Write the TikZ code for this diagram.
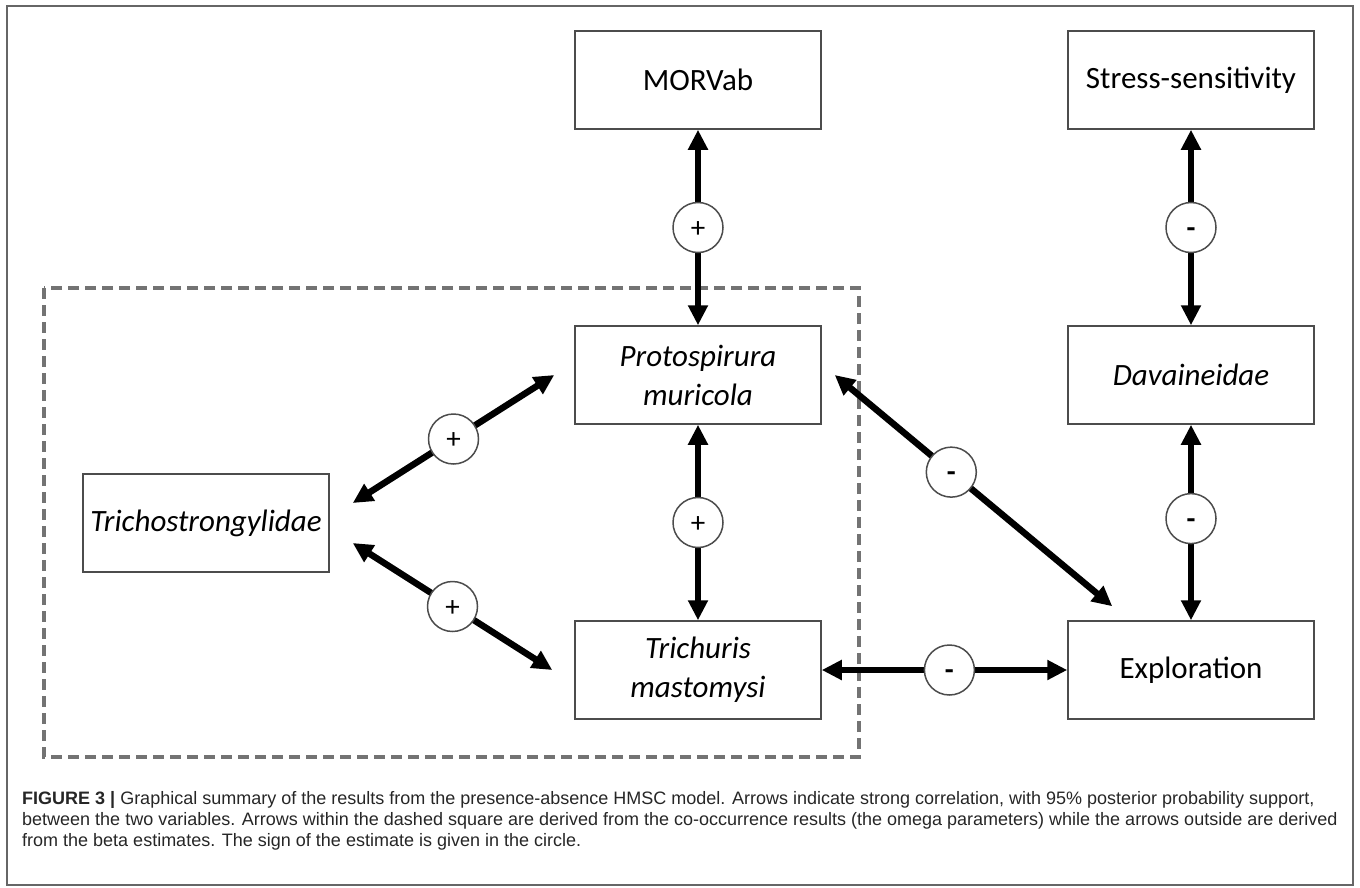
\documentclass[tikz,border=0pt]{standalone}
\usepackage{fontspec}
\setmainfont{Carlito}
\newfontfamily\capfont{Liberation Sans}
\usetikzlibrary{arrows.meta}
\tikzset{ %inner sep = 0pt,
  >={Triangle[length=20pt,width=19pt]},
  {taxon/.style} ={draw=black!70, line width=1.5pt, align=center,
                   minimum width=246pt, minimum height=98pt, inner sep=0pt,
                   font=\fontsize{31}{39}\selectfont},
  {species/.style} ={taxon, font=\itshape\fontsize{31}{39}\selectfont},
  {sign/.style} ={circle, draw=black!70, line width=1.5pt, fill=white,
                  minimum size=50pt, inner sep=0pt,
                  text height=19pt, text depth=0pt,
                  font=\fontsize{29}{29}\selectfont},
  {link/.style} ={<->, line width=6.5pt},
  {coocc/.style} ={draw=black!55, line width=4pt, dash pattern=on 11pt off 6pt},
}

\begin{document}
\begin{tikzpicture}[x=1pt,y=-1pt]
\useasboundingbox (0,0) rectangle (1360,887);
\draw[black!60, line width=2pt] (7,6) rectangle (1353,885);
% co-occurrence part
\draw[coocc] (44,288) rectangle (859,757);

\node[taxon] (morv) at (698,80) {MORVab};
\node[taxon] (stress) at (1191,80) {Stress-sensitivity};
\node[species] (proto) at (698,375) {Protospirura\\muricola};
\node[species] (dav) at (1191,375) {Davaineidae};
\node[species] (tricho) at (206,523) {Trichostrongylidae};
\node[species] (trich) at (698,670) {Trichuris\\mastomysi};
\node[taxon] (explo) at (1191,670) {Exploration};

\draw[link] (morv) -- node[sign] {+} (proto);
\draw[link] (stress) -- node[sign] {\textbf{-}} (dav);
\draw[link] (proto) -- node[sign] {+} (trich);
\draw[link] (dav) -- node[sign,pos=.48] {\textbf{-}} (explo);
\draw[link] (trich) -- node[sign,pos=.52] {\textbf{-}} (explo);
\draw[link] ([xshift=23pt,yshift=20pt]tricho.east) -- node[sign] {+} ([xshift=-20pt]proto.west);
\draw[link] ([xshift=23pt,yshift=-20pt]tricho.east) -- node[sign] {+} ([xshift=-22pt]trich.west);
\draw[link] ([xshift=13pt]proto.east) -- node[sign,pos=.42] {\textbf{-}} ([xshift=45pt,yshift=14pt]explo.north west);

\node[anchor=north west, align=left, inner sep=0pt, text=black!85,
      font=\capfont\fontsize{18}{21}\selectfont] (caption) at (22,791)
  {\textbf{FIGURE 3 |} Graphical summary of the results from the presence-absence HMSC model. Arrows indicate strong correlation, with 95\% posterior probability support,\\
   between the two variables. Arrows within the dashed square are derived from the co-occurrence results (the omega parameters) while the arrows outside are derived\\
   from the beta estimates. The sign of the estimate is given in the circle.};
\end{tikzpicture}
\end{document}
